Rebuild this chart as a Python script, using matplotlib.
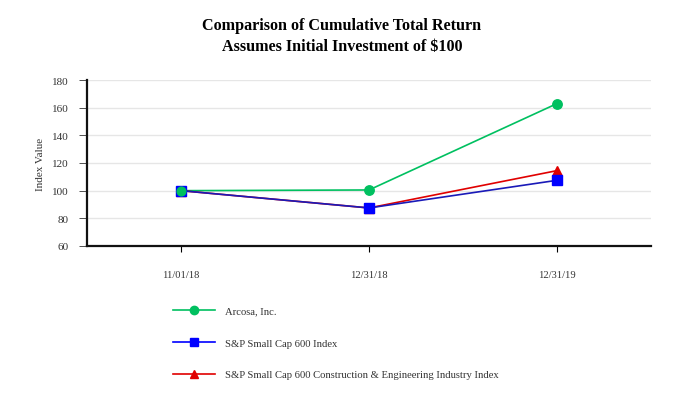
import matplotlib
matplotlib.use('Agg')
import matplotlib.pyplot as plt
from matplotlib.lines import Line2D

dates = ['11/01/18', '12/31/18', '12/31/19']
arcosa = [100, 100.5, 163]
sp600 = [100, 87.5, 107.5]
sp600_ce = [100, 87.5, 114.5]
series_names = ['Arcosa, Inc.', 'S&P Small Cap 600 Index',
                'S&P Small Cap 600 Construction & Engineering Industry Index']
yticks = [60, 80, 100, 120, 140, 160, 180]

plt.rcParams['font.family'] = ['Liberation Serif', 'DejaVu Serif']

fig = plt.figure(figsize=(6.84, 4.10), dpi=100)
ax = fig.add_axes([0.127, 0.3976, 0.825, 0.4048])

x = range(len(dates))
GREEN = '#00c060'
BLUE_L = '#1a1ab8'
BLUE_M = '#0000ff'
RED = '#e00000'

ax.plot(x, arcosa, '-', color=GREEN, lw=1.2, marker='o', ms=6.8,
        mfc=GREEN, mec=GREEN, zorder=3)
ax.plot(x, sp600_ce, '-', color=RED, lw=1.2, marker='^', ms=6.8,
        mfc=RED, mec=RED, zorder=4)
ax.plot(x, sp600, '-', color=BLUE_L, lw=1.2, marker='s', ms=6.8,
        mfc=BLUE_M, mec=BLUE_M, zorder=5)
# Arcosa first point sits on top in the reference
ax.plot([0], [arcosa[0]], 'o', color=GREEN, ms=6.3, zorder=6)

ax.set_xlim(-0.5, 2.5)
ax.set_ylim(60, 180)
ax.set_yticks(yticks)
ax.set_xticks(list(x))
ax.set_xticklabels(dates, fontsize=7.6, color='#333333')
ax.tick_params(axis='x', length=4, width=0.8, pad=13, direction='out')
ax.tick_params(axis='y', labelsize=8, length=6, width=0.6, colors='#333333',
               pad=7)
ax.yaxis.grid(True, color='#e6e6e6', lw=1.0)
ax.set_axisbelow(True)
for s in ('top', 'right'):
    ax.spines[s].set_visible(False)
ax.spines['left'].set_linewidth(1.6)
ax.spines['bottom'].set_linewidth(1.6)
ax.spines['left'].set_color('#111111')
ax.spines['bottom'].set_color('#111111')
ax.set_ylabel('Index Value', fontsize=8, color='#333333', labelpad=5)

fig.text(0.5, 0.91, 'Comparison of Cumulative Total Return\nAssumes Initial Investment of $100',
         ha='center', va='center', fontsize=11.6, fontweight='bold',
         linespacing=1.4)

handles = [
    Line2D([0], [0], color=GREEN, lw=1.2, marker='o', ms=6, mfc=GREEN, mec=GREEN),
    Line2D([0], [0], color=BLUE_M, lw=1.2, marker='s', ms=6, mfc=BLUE_M, mec=BLUE_M),
    Line2D([0], [0], color=RED, lw=1.2, marker='^', ms=6, mfc=RED, mec=RED),
]
fig.legend(handles, series_names, loc='upper left',
           bbox_to_anchor=(0.245, 0.264), frameon=False, fontsize=7.7,
           handlelength=3.9, handletextpad=1.0, labelspacing=2.1,
           borderpad=0, labelcolor='#333333')

plt.savefig('out.png', dpi=100, facecolor='white')
plt.close()
